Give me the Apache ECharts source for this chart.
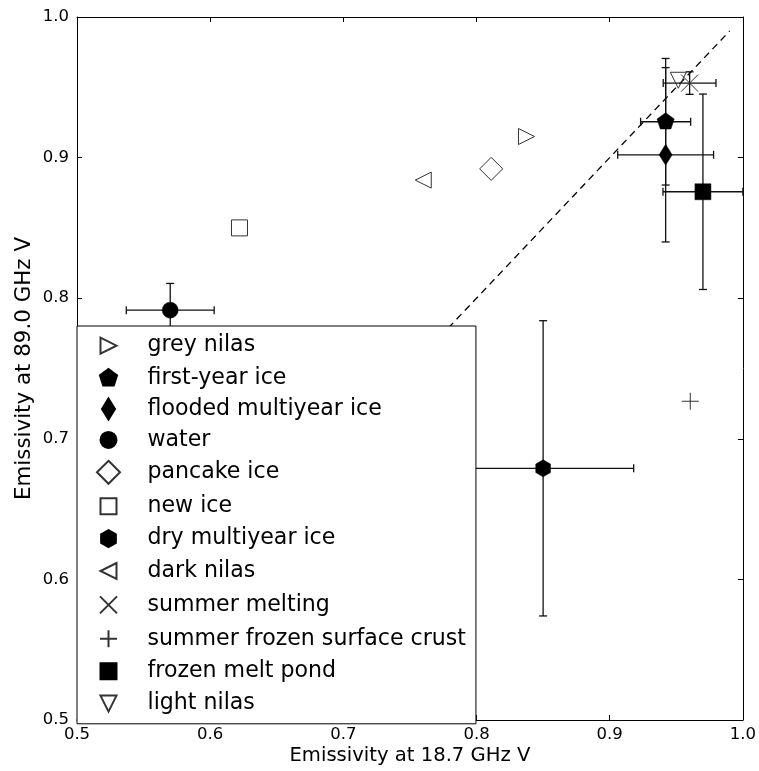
<!DOCTYPE html>
<html>
<head>
<meta charset="utf-8">
<script src="https://cdn.jsdelivr.net/npm/echarts@6/dist/echarts.min.js"></script>
<style>html,body{margin:0;padding:0;background:#fff;}#c{width:759px;height:771px;}</style>
</head>
<body>
<div id="c"></div>
<script>
// ---- data ----
const seriesNames = ['grey nilas','first-year ice','flooded multiyear ice','water','pancake ice','new ice','dry multiyear ice','dark nilas','summer melting','summer frozen surface crust','frozen melt pond','light nilas'];
const emis187 = [0.8375, 0.942, 0.942, 0.570, 0.811, 0.622, 0.850, 0.760, 0.960, 0.9605, 0.970, 0.9515];
const emis890 = [0.915, 0.9255, 0.902, 0.7915, 0.892, 0.850, 0.679, 0.884, 0.953, 0.7267, 0.8757, 0.955];
const err187 = [null, 0.0188, 0.036, 0.033, null, null, 0.068, null, 0.0198, null, 0.030, null];
const err890 = [null, 0.045, 0.062, 0.019, null, null, 0.105, null, 0.008, null, 0.0695, null];
const diagonal = [[0.5, 0.5], [0.99, 0.99]];
const xTicks = [0.5, 0.6, 0.7, 0.8, 0.9, 1.0];
const yTicks = [0.5, 0.6, 0.7, 0.8, 0.9, 1.0];

// ---- marker shapes (24x24 frame) ----
const F = 'M0,0M24,24';
const shapes = {
  right: F + 'M4,4L20,12L4,20Z',
  left: F + 'M20,4L4,12L20,20Z',
  down: F + 'M4,4L20,4L12,20Z',
  pentagon: F + 'M12,3L20.56,9.22L17.29,19.28L6.71,19.28L3.44,9.22Z',
  thinDiamond: F + 'M12,1.5L18.5,12L12,22.5L5.5,12Z',
  circle: F + 'M4,12A8,8 0 1,0 20,12A8,8 0 1,0 4,12Z',
  diamond: F + 'M12,0.5L23.5,12L12,23.5L0.5,12Z',
  square: F + 'M4,4L20,4L20,20L4,20Z',
  hexagon: F + 'M12,3.5L19.36,7.75L19.36,16.25L12,20.5L4.64,16.25L4.64,7.75Z',
  cross: F + 'M3.5,3.5L20.5,20.5M20.5,3.5L3.5,20.5',
  plus: F + 'M3.5,12L20.5,12M12,3.5L12,20.5'
};
const markerShape = ['right','pentagon','thinDiamond','circle','diamond','square','hexagon','left','cross','plus','square','down'];
const markerFilled = [false,true,true,true,false,false,true,false,false,false,true,false];

const FONT = 'DejaVu Sans';
const chart = echarts.init(document.getElementById('c'), null, {renderer: 'canvas'});

const errData = [];
for (let i = 0; i < seriesNames.length; i++) {
  if (err187[i] != null) errData.push([emis187[i], emis890[i], err187[i], err890[i]]);
}

const series = [];
series.push({
  name: '__diag', type: 'line', data: diagonal, symbol: 'none', silent: true,
  lineStyle: {color: '#000', width: 1.3, type: [7, 5]}, z: 1
});
series.push({
  name: '__err', type: 'custom', data: errData, silent: true, z: 2, clip: false,
  renderItem: function (params, api) {
    const x = api.value(0), y = api.value(1), ex = api.value(2), ey = api.value(3);
    const l = api.coord([x - ex, y]), r = api.coord([x + ex, y]);
    const t = api.coord([x, y + ey]), b = api.coord([x, y - ey]);
    const cap = 4;
    const st = {stroke: '#111', lineWidth: 1.3, fill: null};
    const ln = (x1, y1, x2, y2) => ({type: 'line', shape: {x1, y1, x2, y2}, style: st});
    return {type: 'group', children: [
      ln(l[0], l[1], r[0], r[1]),
      ln(l[0], l[1] - cap, l[0], l[1] + cap),
      ln(r[0], r[1] - cap, r[0], r[1] + cap),
      ln(t[0], t[1], b[0], b[1]),
      ln(t[0] - cap, t[1], t[0] + cap, t[1]),
      ln(b[0] - cap, b[1], b[0] + cap, b[1])
    ]};
  }
});
for (let i = 0; i < seriesNames.length; i++) {
  const filled = markerFilled[i];
  series.push({
    name: seriesNames[i], type: 'scatter', z: 3,
    data: [[emis187[i], emis890[i]]],
    symbol: 'path://' + shapes[markerShape[i]],
    symbolSize: 24,
    itemStyle: filled ? {color: '#000', borderColor: '#000', borderWidth: 0.5, opacity: 1}
                      : {color: 'none', borderColor: '#333', borderWidth: 1, opacity: 1}
  });
}

const tickFmt = v => v.toFixed(1);
const axisCommon = {
  type: 'value', min: 0.5, max: 1.0, interval: 0.1,
  splitLine: {show: false},
  axisLine: {show: true, onZero: false, lineStyle: {color: '#000', width: 1}},
  axisTick: {show: true, inside: true, length: 5, lineStyle: {color: '#000', width: 1}}
};

chart.setOption({
  animation: false,
  backgroundColor: '#fff',
  grid: {left: 77, right: 15, top: 17, bottom: 49, containLabel: false},
  xAxis: [
    Object.assign({}, axisCommon, {
      position: 'bottom',
      name: 'Emissivity at 18.7 GHz V', nameLocation: 'middle', nameGap: 26, nameMoveOverlap: false,
      nameTextStyle: {fontFamily: FONT, fontSize: 19.6, color: '#000', verticalAlign: 'top'},
      axisLabel: {formatter: tickFmt, fontFamily: FONT, fontSize: 16.5, color: '#000', margin: 6}
    }),
    Object.assign({}, axisCommon, {position: 'top', axisLabel: {show: false}})
  ],
  yAxis: [
    Object.assign({}, axisCommon, {
      position: 'left',
      name: 'Emissivity at 89.0 GHz V', nameLocation: 'middle', nameGap: 42, nameMoveOverlap: false,
      nameTextStyle: {fontFamily: FONT, fontSize: 21.4, color: '#000'},
      axisLabel: {formatter: tickFmt, fontFamily: FONT, fontSize: 16.5, color: '#000', margin: 8}
    }),
    Object.assign({}, axisCommon, {position: 'right', axisLabel: {show: false}})
  ],
  legend: {
    data: seriesNames,
    orient: 'vertical',
    left: 77, top: 326,
    padding: [5.2, 10, 5.7, 17],
    itemWidth: 24, itemHeight: 24, itemGap: 4.9,
    backgroundColor: '#fff', borderColor: '#000', borderWidth: 1, borderRadius: 0,
    selectedMode: false,
    textStyle: {fontFamily: FONT, fontSize: 22.1, color: '#000', lineHeight: 24, padding: [0, 0, 0, 22]},
    z: 10
  },
  series: series
});
</script>
</body>
</html>
